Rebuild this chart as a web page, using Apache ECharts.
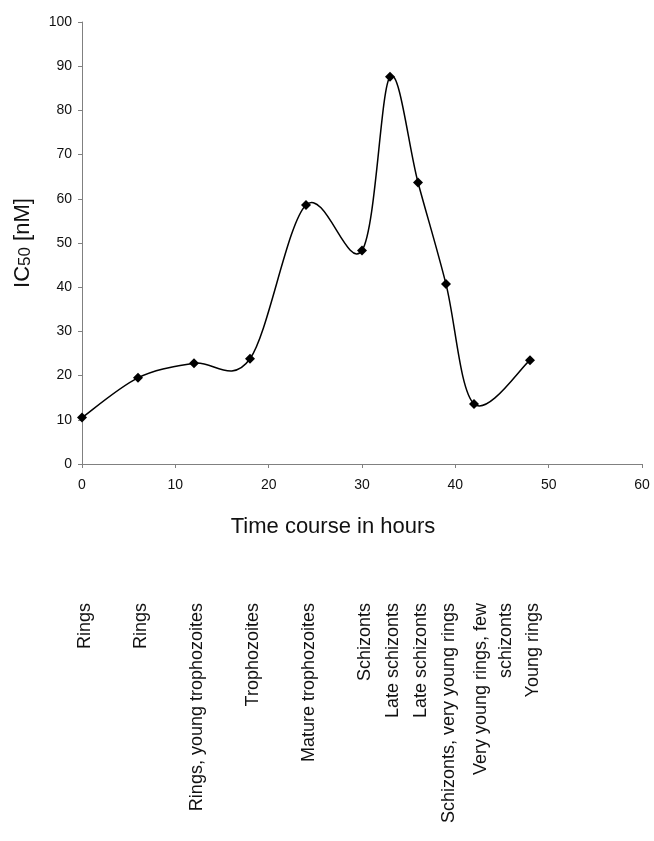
<!DOCTYPE html>
<html>
<head>
<meta charset="utf-8">
<script src="https://cdn.jsdelivr.net/npm/echarts@6/dist/echarts.min.js"></script>
<style>
html,body{margin:0;padding:0;background:#fff;}
#chart{width:654px;height:841px;}
</style>
</head>
<body>
<div id="chart"></div>
<script>
const hours = [0, 6, 12, 18, 24, 30, 33, 36, 39, 42, 48];
const ic50 = [10.5, 19.5, 22.8, 23.8, 58.6, 48.3, 87.6, 63.7, 40.7, 13.6, 23.5];
const stageLabels = ['Rings', 'Rings', 'Rings, young trophozoites', 'Trophozoites',
  'Mature trophozoites', 'Schizonts', 'Late schizonts', 'Late schizonts',
  'Schizonts, very young rings', 'Very young rings, few\nschizonts', 'Young rings'];
const xTicks = [0, 10, 20, 30, 40, 50, 60];
const yTicks = [0, 10, 20, 30, 40, 50, 60, 70, 80, 90, 100];

const FONT = "'Liberation Sans', Arial, sans-serif";
const chart = echarts.init(document.getElementById('chart'), null, {renderer: 'canvas'});
const points = hours.map((h, i) => [h, ic50[i]]);

// Catmull-Rom style smoothing (like spreadsheet "smoothed line"), each item draws its own segment
function renderSegment(params, api) {
  const i = params.dataIndex;
  if (i >= points.length - 1) return null;
  const P = k => api.coord(points[Math.max(0, Math.min(points.length - 1, k))]);
  const p0 = P(i - 1), p1 = P(i), p2 = P(i + 1), p3 = P(i + 2);
  const t = 1 / 6;
  return {
    type: 'bezierCurve',
    shape: {
      x1: p1[0], y1: p1[1], x2: p2[0], y2: p2[1],
      cpx1: p1[0] + (p2[0] - p0[0]) * t, cpy1: p1[1] + (p2[1] - p0[1]) * t,
      cpx2: p2[0] - (p3[0] - p1[0]) * t, cpy2: p2[1] - (p3[1] - p1[1]) * t
    },
    style: {stroke: '#000', fill: null, lineWidth: 1.5},
    silent: true
  };
}

const option = {
  animation: false,
  backgroundColor: '#ffffff',
  grid: {left: 82, right: 12, top: 22, bottom: 377, containLabel: false},
  xAxis: {
    type: 'value', min: xTicks[0], max: xTicks[xTicks.length - 1], interval: 10,
    name: 'Time course in hours', nameLocation: 'middle', nameGap: 52,
    nameTextStyle: {fontFamily: FONT, fontSize: 22, color: '#111', padding: [0, 58, 0, 0]},
    axisLine: {show: true, onZero: false, lineStyle: {color: '#808080', width: 1}},
    axisTick: {show: true, inside: false, length: 4, lineStyle: {color: '#808080'}},
    axisLabel: {fontFamily: FONT, fontSize: 14, color: '#111', margin: 14},
    splitLine: {show: false}
  },
  yAxis: {
    type: 'value', min: yTicks[0], max: yTicks[yTicks.length - 1], interval: 10,
    name: '{a|IC}{b|50}{a| [nM]}', nameLocation: 'middle', nameGap: 48, nameRotate: 90,
    nameTextStyle: {
      fontFamily: FONT, color: '#111',
      rich: {a: {fontFamily: FONT, fontSize: 22, color: '#111'}, b: {fontFamily: FONT, fontSize: 17, color: '#111', padding: [4, 0, 0, 0]}}
    },
    axisLine: {show: true, onZero: false, lineStyle: {color: '#808080', width: 1}},
    axisTick: {show: true, inside: false, length: 4, lineStyle: {color: '#808080'}},
    axisLabel: {fontFamily: FONT, fontSize: 14, color: '#111', margin: 10},
    splitLine: {show: false}
  },
  series: [{
    type: 'custom',
    data: points,
    renderItem: renderSegment,
    encode: {x: 0, y: 1},
    z: 2
  }, {
    type: 'scatter',
    data: points,
    symbol: 'diamond', symbolSize: 10,
    itemStyle: {color: '#000', opacity: 1},
    z: 3
  }]
};
chart.setOption(option);

// stage labels under the axis, positioned through the x scale
const lh = 25;
const graphics = stageLabels.map((txt, i) => {
  const px = chart.convertToPixel({xAxisIndex: 0}, hours[i]);
  const nLines = txt.split('\n').length;
  return {
    type: 'text',
    x: px + 3 + (nLines - 1) * (lh / 2 + 4),
    y: 603,
    rotation: Math.PI / 2,
    style: {
      text: txt, fontFamily: FONT, fontSize: 18, fill: '#111',
      align: 'right', verticalAlign: 'middle', lineHeight: lh
    }
  };
});
chart.setOption({graphic: graphics});
</script>
</body>
</html>
